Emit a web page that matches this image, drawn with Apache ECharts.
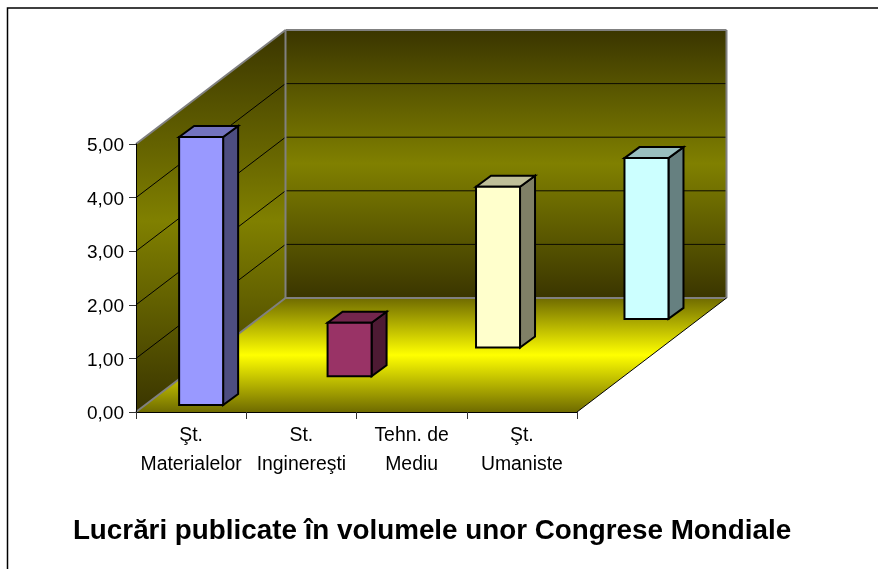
<!DOCTYPE html>
<html><head><meta charset="utf-8">
<style>html,body{margin:0;padding:0;background:#fff}#c{width:878px;height:569px}</style>
<script src="https://cdn.jsdelivr.net/npm/echarts@6/dist/echarts.min.js"></script>
</head><body><div id="c"></div>
<script>
const categories = ['Şt.\nMaterialelor', 'St.\nInginereşti', 'Tehn. de\nMediu', 'Şt.\nUmaniste'];
const values = [5, 1, 3, 3];
const faceColors = ['#9999ff', '#993366', '#ffffcc', '#ccffff'];
const topColors = ['#7373bf', '#73264d', '#bfbf99', '#99bfbf'];
const sideColors = ['#4d4d80', '#4d1a33', '#808066', '#668080'];
const yTicks = [0, 1, 2, 3, 4, 5];
const titleText = 'Lucrări publicate în volumele unor Congrese Mondiale';

const WALL_DX = 149.5, WALL_DY = -114;
const BAR_DX = 15, BAR_DY = -11, BAR_W = 44;
const ROW_X0 = 10, ROW_XSTEP = 38.2, ROW_Y0 = -7, ROW_YSTEP = -28.7;
const GRID = { left: 136, top: 144, width: 441, height: 268 };

const wallGrad = new echarts.graphic.LinearGradient(0, 0, 0, 1, [
  { offset: 0, color: '#3a3500' }, { offset: 0.5, color: '#808000' }, { offset: 1, color: '#3a3500' }]);
const floorGrad = new echarts.graphic.LinearGradient(0, 0, 0, 1, [
  { offset: 0, color: '#6f6b00' }, { offset: 0.5, color: '#ffff00' }, { offset: 1, color: '#6f6b00' }]);

function poly(points, fill, stroke, lineWidth) {
  return { type: 'polygon', shape: { points }, style: { fill, stroke: stroke || 'none', lineWidth: lineWidth || 0, lineJoin: 'miter' } };
}
function line(a, b, stroke, lineWidth) {
  return { type: 'line', shape: { x1: a[0], y1: a[1], x2: b[0], y2: b[1] }, style: { stroke, lineWidth } };
}
function renderWalls(params, api) {
  const cs = params.coordSys;
  const L = cs.x, R = cs.x + cs.width, T = cs.y, B = cs.y + cs.height;
  const d = p => [p[0] + WALL_DX, p[1] + WALL_DY];
  const children = [
    poly([[L, T], d([L, T]), d([L, B]), [L, B]], wallGrad),
    poly([d([L, T]), d([R, T]), d([R, B]), d([L, B])], wallGrad),
    poly([[L, B], [R, B], d([R, B]), d([L, B])], floorGrad)
  ];
  yTicks.forEach(v => {
    if (v === 0 || v === yTicks[yTicks.length - 1]) return;
    const y = api.coord([0, v])[1];
    children.push(line([L, y], d([L, y]), '#000', 1));
    children.push(line(d([L, y]), d([R, y]), '#0d0c00', 1));
  });
  const gray = '#808080';
  children.push(line([L, T], d([L, T]), gray, 2));
  children.push(line(d([L, T]), d([R, T]), gray, 2));
  children.push(line(d([L, T]), d([L, B]), gray, 2));
  children.push(line(d([R, T]), d([R, B]), gray, 2));
  children.push(line([L, B], d([L, B]), gray, 2));
  children.push(line(d([L, B]), d([R, B]), gray, 2));
  children.push(line([R, B], d([R, B]), '#000', 1));
  return { type: 'group', children };
}
function renderBar(params, api) {
  const i = api.value(0), v = api.value(1);
  const ox = ROW_X0 + ROW_XSTEP * i, oy = ROW_Y0 + ROW_YSTEP * i;
  const base = api.coord([i, 0]), top = api.coord([i, v]);
  const x0 = base[0] + ox - BAR_W / 2, x1 = x0 + BAR_W;
  const yb = base[1] + oy, yt = top[1] + oy;
  const s = { stroke: '#000', lw: 2 };
  return { type: 'group', children: [
    poly([[x1, yt], [x1 + BAR_DX, yt + BAR_DY], [x1 + BAR_DX, yb + BAR_DY], [x1, yb]], sideColors[i], s.stroke, s.lw),
    poly([[x0, yt], [x0 + BAR_DX, yt + BAR_DY], [x1 + BAR_DX, yt + BAR_DY], [x1, yt]], topColors[i], s.stroke, s.lw),
    poly([[x0, yt], [x1, yt], [x1, yb], [x0, yb]], faceColors[i], s.stroke, s.lw)
  ]};
}

const chart = echarts.init(document.getElementById('c'), null, { renderer: 'canvas' });
const FONT = '"Liberation Sans", Arial, sans-serif';
chart.setOption({
  animation: false,
  backgroundColor: '#fff',
  title: { text: titleText, left: 427, top: 512, textAlign: 'center',
    textStyle: { fontFamily: FONT, fontSize: 27.8, fontWeight: 'bold', color: '#000' } },
  grid: GRID,
  xAxis: { type: 'category', data: categories, boundaryGap: true, z: 6,
    axisLine: { show: true, lineStyle: { color: '#000', width: 1 } },
    axisTick: { show: true, alignWithLabel: false, length: 7, lineStyle: { color: '#333' } },
    axisLabel: { color: '#000', fontFamily: FONT, fontSize: 19.4, lineHeight: 29, margin: 9, interval: 0 },
    splitLine: { show: false } },
  yAxis: { type: 'value', min: 0, max: 5, interval: 1, z: 6,
    axisLine: { show: true, lineStyle: { color: '#000', width: 1 } },
    axisTick: { show: true, length: 7, lineStyle: { color: '#333' } },
    axisLabel: { color: '#000', fontFamily: FONT, fontSize: 19, margin: 12, verticalAlign: 'top', lineHeight: 4,
      formatter: v => v.toFixed(2).replace('.', ',') },
    splitLine: { show: false } },
  series: [
    { type: 'custom', coordinateSystem: 'cartesian2d', z: 1, clip: false, silent: true,
      renderItem: renderWalls, data: [[0, 0]] },
    { type: 'custom', coordinateSystem: 'cartesian2d', z: 10, clip: false, silent: true,
      renderItem: renderBar, encode: { x: 0, y: 1 }, data: values.map((v, i) => [i, v]) }
  ],
  graphic: { elements: [
    { type: 'polyline', z: 20, shape: { points: [[7.5, 569], [7.5, 8], [878, 8]] },
      style: { stroke: '#000', lineWidth: 1.5, fill: 'none' } }
  ]}
});
</script></body></html>
